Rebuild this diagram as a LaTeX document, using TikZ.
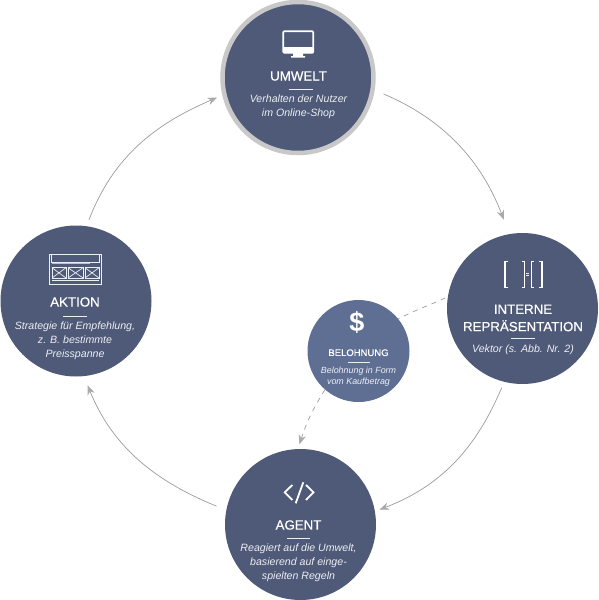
\documentclass[tikz,border=0pt]{standalone}
\usepackage{fontspec}
\setmainfont{Liberation Sans}
\newfontfamily\titelfont[FakeBold=0.5]{Liberation Sans}
\usepackage{xcolor}
\usetikzlibrary{arrows.meta}
\definecolor{kreis}{RGB}{79,90,120}
\definecolor{kreishell}{RGB}{95,111,148}
\definecolor{ring}{RGB}{200,200,200}
\definecolor{pfeil}{RGB}{155,155,155}
\definecolor{schrift}{RGB}{236,238,243}
\tikzset{
  station/.style={circle,fill=kreis,inner sep=0pt,outer sep=0pt,minimum size=#1},
  titel/.style={text=white,font=\titelfont\fontsize{13.3}{17.4}\selectfont,align=center,inner sep=0pt},
  notiz/.style={text=schrift,font=\fontsize{10.6}{14}\selectfont\itshape,align=center,inner sep=0pt},
  strich/.style={schrift,line width=0.9pt},
  symbol/.style={white,line width=1.6pt},
  fein/.style={schrift,line width=0.7pt},
  flow/.style={pfeil,line width=0.7pt,-{Stealth[length=9.5pt,width=7.5pt,color=pfeil!85!white]}},
  rueck/.style={pfeil,line width=0.7pt,dash pattern=on 5pt off 5pt}
}
\begin{document}
\begin{tikzpicture}[x=1pt,y=-1pt]
  \useasboundingbox (0,0) rectangle (598,600);
  \node[station=151pt,draw=ring,line width=4.5pt] (umwelt) at (298,77.5) {};
  \node[station=151pt] (aktion) at (76,301) {};
  \node[station=151pt] (interne) at (522.5,308.5) {};
  \node[station=151pt] (agent) at (300.5,524.5) {};
  \node[station=102pt,fill=kreishell] (belohnung) at (358.5,351) {};

  \draw[flow,shorten <=12pt,shorten >=15.5pt] (umwelt.-9) to[out=-23,in=111] (interne.100);
  \draw[flow,shorten <=6.4pt,shorten >=5pt] (interne.-104) to[out=-113,in=21] (agent.10);
  \draw[flow,shorten <=10.6pt,shorten >=10pt] (agent.169) to[out=158,in=-68] (aktion.-84);
  \draw[flow,shorten <=7pt,shorten >=8pt] (aktion.82) to[out=69,in=203] (umwelt.193);
  \draw[rueck,shorten <=3pt] (interne.171) to[out=-155,in=27] (belohnung.39);
  \draw[rueck,-{Stealth[length=9.5pt,width=7.5pt,color=pfeil!85!white]},shorten >=5pt] (belohnung.-131) to[out=-122,in=72] (agent.92);

  \node[titel] (umwelttitel) at (298.5,76) {UMWELT};
  \draw[strich] (288.5,89) -- (312.5,89);
  \node[notiz] (umweltnotiz) at (298.5,106.5) {Verhalten der Nutzer\\im Online-Shop};

  \node[titel] (aktiontitel) at (75,302) {AKTION};
  \draw[strich] (63,316) -- (87,316);
  \node[notiz] (aktionnotiz) at (75,340.5) {Strategie für Empfehlung,\\z. B. bestimmte\\Preisspanne};

  \node[titel] (internetitel) at (523,318) {INTERNE\\REPRÄSENTATION};
  \draw[strich] (511,338.7) -- (535,338.7);
  \node[notiz] (internenotiz) at (523,349.5) {Vektor (s. Abb. Nr. 2)};

  \node[titel] (agenttitel) at (298.5,525) {AGENT};
  \draw[strich] (287,538.3) -- (310,538.3);
  \node[notiz] (agentnotiz) at (298.5,562.3) {Reagiert auf die Umwelt,\\basierend auf einge-\\spielten Regeln};

  \node[titel,font=\titelfont\fontsize{9.5}{12}\selectfont] (belohnungtitel) at (358.5,352.7) {BELOHNUNG};
  \draw[strich] (347.5,362) -- (369.5,362);
  \node[notiz,font=\fontsize{8.9}{11.6}\selectfont\itshape] (belohnungnotiz) at (358.5,376.5) {Belohnung in Form\\vom Kaufbetrag};

  % monitor
  \draw[symbol,rounded corners=1pt] (283.2,31.2) rectangle (313.2,52.8);
  \fill[white] (283,47) rectangle (313.5,53) (293,53) rectangle (303,56) (291,56) rectangle (305,57.5);
  % wireframe
  \draw[fein] (49.5,254) rectangle (101.5,284);
  \draw[fein] (51.7,254) -- (51.7,262) -- (99.5,262) -- (99.5,254);
  \draw[fein,line width=1.2pt,schrift!70!kreis] (52,263.7) -- (90,263.7);
  \foreach \a/\b in {52/66,68/83,85/99}{
    \draw[fein] (\a,267.7) rectangle (\b,278);
    \draw[fein] (\a,267.7) -- (\b,278) (\a,278) -- (\b,267.7);
  }
  \draw[fein] (52,280.7) -- (99,280.7);
  % brackets
  \draw[symbol,line width=1.1pt] (507.7,261.5) -- (505,261.5) -- (505,287.5) -- (507.7,287.5);
  \draw[symbol,line width=1.1pt] (521.7,261.5) -- (524.4,261.5) -- (524.4,287.5) -- (521.7,287.5);
  \draw[symbol,line width=1.1pt] (534.2,261.5) -- (531.5,261.5) -- (531.5,287.5) -- (534.2,287.5);
  \draw[symbol,line width=1.1pt] (539.3,261.5) -- (542,261.5) -- (542,287.5) -- (539.3,287.5);
  \draw[schrift,line width=0.6pt] (526.3,273.4) -- (529.3,273.4) (526.3,275.6) -- (529.3,275.6);
  % dollar
  \node[text=white,font=\fontsize{27}{27}\selectfont\bfseries,inner sep=0pt] (dollar) at (357,322) {\$};
  % code
  \draw[symbol,line width=1.8pt] (292.3,485) -- (284.8,492.3) -- (292.3,500);
  \draw[symbol,line width=1.8pt] (303.3,482.3) -- (295.7,503.3);
  \draw[symbol,line width=1.8pt] (306,485) -- (313.5,492.3) -- (306,500);
\end{tikzpicture}
\end{document}
